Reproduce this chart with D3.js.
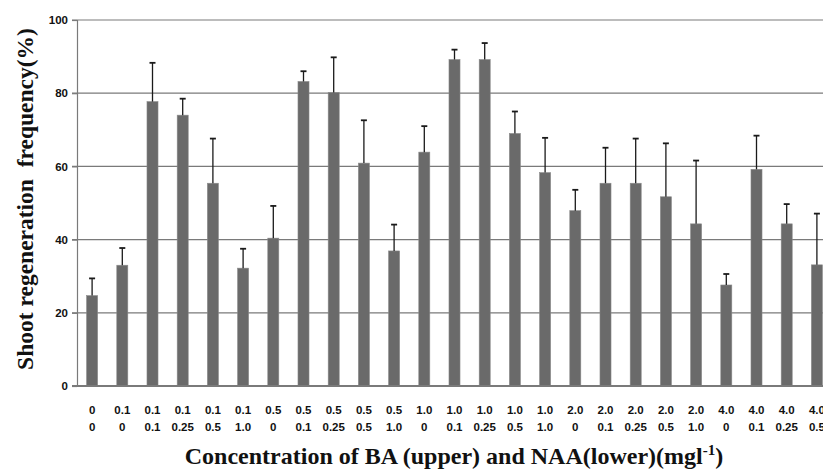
<!DOCTYPE html>
<html>
<head>
<meta charset="utf-8">
<script src="https://cdn.jsdelivr.net/npm/d3@7"></script>
<style>
  body { margin: 0; background: #fff; }
  svg { display: block; }
</style>
</head>
<body>
<div id="chart"></div>
<script>
// BA (upper) and NAA (lower) concentrations for each treatment
const baLevels = ["0", "0.1", "0.1", "0.1", "0.1", "0.1", "0.5", "0.5", "0.5", "0.5", "0.5",
    "1.0", "1.0", "1.0", "1.0", "1.0", "2.0", "2.0", "2.0", "2.0", "2.0", "4.0", "4.0", "4.0", "4.0"];
const naaLevels = ["0", "0", "0.1", "0.25", "0.5", "1.0", "0", "0.1", "0.25", "0.5", "1.0",
    "0", "0.1", "0.25", "0.5", "1.0", "0", "0.1", "0.25", "0.5", "1.0", "0", "0.1", "0.25", "0.5"];
// shoot regeneration frequency (%) and upper error
const frequency = [24.7, 33.0, 77.7, 74.0, 55.4, 32.2, 40.4, 83.2, 80.2, 60.9, 36.9,
    63.9, 89.2, 89.2, 69.0, 58.3, 47.9, 55.4, 55.4, 51.7, 44.3, 27.6, 59.2, 44.3, 33.1];
const errorTop = [29.4, 37.7, 88.3, 78.5, 67.6, 37.5, 49.2, 86.0, 89.8, 72.6, 44.1,
    71.0, 91.9, 93.7, 75.0, 67.8, 53.6, 65.1, 67.6, 66.3, 61.6, 30.6, 68.4, 49.7, 47.1];
const yTicks = [0, 20, 40, 60, 80, 100];

const width = 823, height = 473;
const margin = { top: 20, left: 77, bottom: 87 };
const step = 30.2;

const svg = d3.select("#chart").append("svg")
    .attr("width", width)
    .attr("height", height);

const ids = baLevels.map((d, i) => i);

const x = d3.scaleBand()
    .domain(ids)
    .range([margin.left, margin.left + step * ids.length])
    .paddingInner(0.635)
    .paddingOuter(0.3175);

const y = d3.scaleLinear()
    .domain([0, 100])
    .range([height - margin.bottom, margin.top]);

// gridlines
svg.append("g")
    .selectAll("line")
    .data(yTicks.filter(t => t > 0))
    .join("line")
    .attr("x1", margin.left - 5)
    .attr("x2", width)
    .attr("y1", d => y(d))
    .attr("y2", d => y(d))
    .attr("stroke", "#7a7a7a")
    .attr("stroke-width", 1.2);

// y axis
const yAxis = svg.append("g")
    .attr("transform", `translate(${margin.left},0)`)
    .call(d3.axisLeft(y).tickValues(yTicks).tickSize(5).tickPadding(4));
yAxis.select(".domain").attr("stroke", "#7a7a7a").attr("stroke-width", 1.2);
yAxis.selectAll(".tick line").attr("stroke", "#7a7a7a").attr("stroke-width", 1.2);
yAxis.selectAll("text")
    .attr("fill", "#111")
    .style("font-family", "'Liberation Sans', Arial, sans-serif")
    .style("font-weight", "bold")
    .style("font-size", "11.5px");

// bars
svg.append("g")
    .selectAll("rect")
    .data(ids)
    .join("rect")
    .attr("x", i => x(i))
    .attr("width", x.bandwidth())
    .attr("y", i => y(frequency[i]))
    .attr("height", i => y(0) - y(frequency[i]))
    .attr("fill", "#6a6a6a")
    .attr("stroke", "#8a8a8a")
    .attr("stroke-width", 0.6);

// error bars (upper only)
const err = svg.append("g").attr("stroke", "#1a1a1a").attr("stroke-width", 1.3);
err.selectAll("line.stem")
    .data(ids)
    .join("line")
    .attr("class", "stem")
    .attr("x1", i => x(i) + x.bandwidth() / 2)
    .attr("x2", i => x(i) + x.bandwidth() / 2)
    .attr("y1", i => y(frequency[i]))
    .attr("y2", i => y(errorTop[i]));
err.selectAll("line.cap")
    .data(ids)
    .join("line")
    .attr("class", "cap")
    .attr("x1", i => x(i) + x.bandwidth() / 2 - 3)
    .attr("x2", i => x(i) + x.bandwidth() / 2 + 3)
    .attr("y1", i => y(errorTop[i]))
    .attr("y2", i => y(errorTop[i]))
    .attr("stroke-width", 1.8);

// baseline
svg.append("line")
    .attr("x1", margin.left - 5)
    .attr("x2", width)
    .attr("y1", y(0))
    .attr("y2", y(0))
    .attr("stroke", "#7a7a7a")
    .attr("stroke-width", 1.8);

// category labels, two rows
const labels = svg.append("g")
    .attr("fill", "#111")
    .style("font-family", "'Liberation Sans', Arial, sans-serif")
    .style("font-weight", "bold")
    .style("font-size", "11.5px")
    .attr("text-anchor", "middle");
labels.selectAll("text.ba")
    .data(ids)
    .join("text")
    .attr("class", "ba")
    .attr("x", i => x(i) + x.bandwidth() / 2)
    .attr("y", y(0) + 28)
    .text(i => baLevels[i]);
labels.selectAll("text.naa")
    .data(ids)
    .join("text")
    .attr("class", "naa")
    .attr("x", i => x(i) + x.bandwidth() / 2)
    .attr("y", y(0) + 45)
    .text(i => naaLevels[i]);

// axis titles
const serif = "'Liberation Serif', 'Times New Roman', serif";
svg.append("text")
    .attr("transform", `translate(33,199) rotate(-90)`)
    .attr("text-anchor", "middle")
    .style("font-family", serif)
    .style("font-weight", "bold")
    .style("font-size", "23.5px")
    .style("white-space", "pre")
    .attr("fill", "#111")
    .text("Shoot regeneration  frequency(%)");

const xTitle = svg.append("text")
    .attr("x", 454)
    .attr("y", 464)
    .attr("text-anchor", "middle")
    .style("font-family", serif)
    .style("font-weight", "bold")
    .style("font-size", "24px")
    .attr("fill", "#111");
xTitle.append("tspan").text("Concentration of BA (upper) and NAA(lower)(mgl");
xTitle.append("tspan").attr("dy", -9).style("font-size", "15px").text("-1");
xTitle.append("tspan").attr("dy", 9).text(")");
</script>
</body>
</html>
